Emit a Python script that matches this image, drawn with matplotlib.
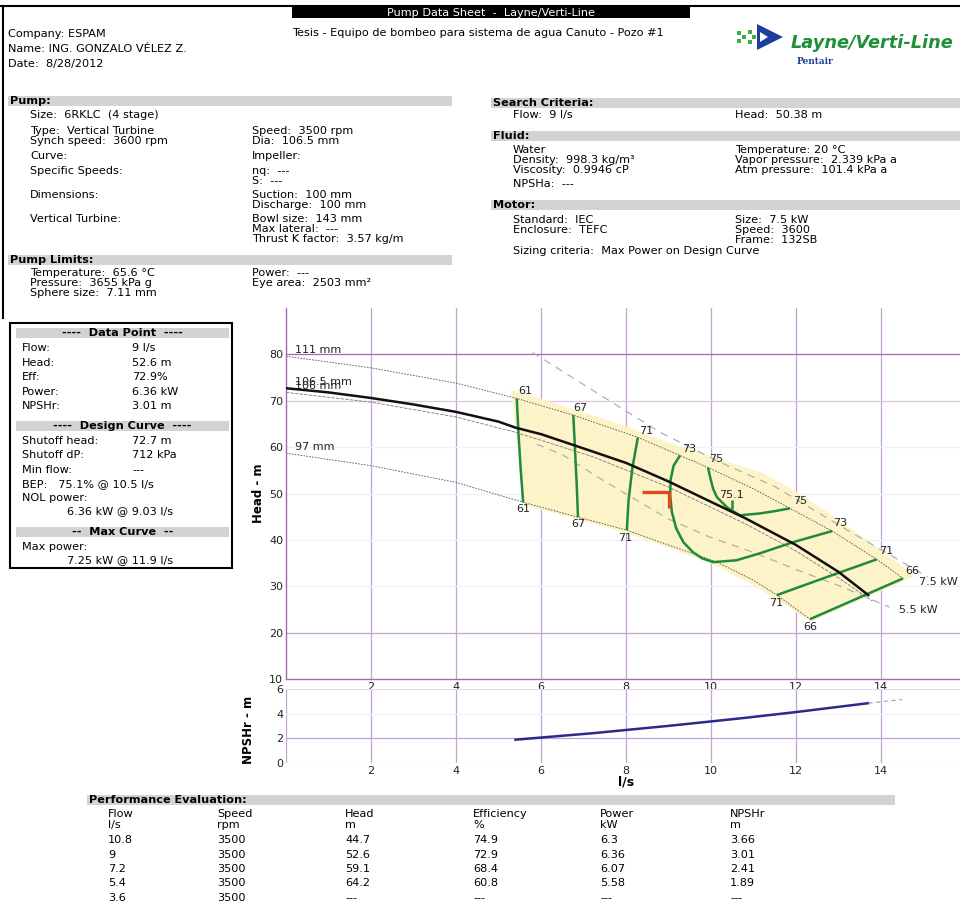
import matplotlib
matplotlib.use('Agg')
import matplotlib.pyplot as plt
from matplotlib.patches import Rectangle, Polygon

plt.rcParams['font.family'] = ['DejaVu Sans']
plt.rcParams['font.size'] = 8.1

# --- curvas H-Q (l/s, m) ---
flow_design = [0, 1, 2, 3, 4, 5, 5.4, 6, 7.2, 8, 9, 10, 10.8, 12, 13, 13.7]
head_design = [72.7, 71.8, 70.6, 69.2, 67.6, 65.5, 64.2, 62.8, 59.1, 56.6, 52.6, 48.2, 44.7, 38.9, 33.1, 28.1]

flow_106 = [0, 2, 4, 5.4, 7.2, 9, 10.8, 12, 13, 13.8]
head_106 = [71.8, 69.7, 66.5, 63.2, 58.0, 51.4, 43.5, 37.6, 31.8, 26.8]

flow_111 = [0, 2, 4, 5.43, 6.76, 8.28, 9.27, 9.93, 11, 11.86, 12.85, 13.9, 14.52]
head_111 = [79.6, 77.1, 73.8, 70.5, 66.9, 62.1, 58.2, 55.6, 51.0, 46.8, 41.9, 35.8, 31.7]

flow_97 = [0, 2, 4, 5.58, 6.87, 8.02, 9, 10.14, 11, 11.55, 12.33]
head_97 = [58.7, 56.0, 52.4, 48.1, 44.9, 42.1, 38.9, 35.2, 31.3, 28.1, 22.9]

# lineas de potencia
flow_75kw = [5.8, 7.4, 8.8, 10.2, 11.5, 12.5, 13.3, 14.3, 15.1]
head_75kw = [80.4, 71.2, 63.2, 56.8, 51.5, 46.0, 41.6, 36.3, 32.0]
flow_55kw = [5.9, 6.5, 7.5, 9.0, 10.0, 11.0, 12.0, 13.1, 14.2]
head_55kw = [60.6, 58.4, 52.6, 44.5, 40.5, 37.3, 33.6, 29.8, 25.5]

# zona de operacion
zone_q = [5.3, 6.5, 8.0, 9.0, 10.0, 11.2, 11.9, 12.9, 13.9, 14.8,
          12.35, 11.5, 11.0, 10.1, 9.0, 8.0, 6.9, 5.6]
zone_h = [72.3, 69.0, 64.5, 61.0, 58.0, 54.5, 51.0, 45.0, 38.5, 32.2,
          22.4, 27.4, 30.2, 34.5, 38.3, 41.5, 44.3, 47.5]

# curvas de iso-eficiencia
eff61_q = [5.43, 5.47, 5.52, 5.58]
eff61_h = [70.5, 63.0, 55.5, 48.1]
eff67_q = [6.76, 6.80, 6.84, 6.87]
eff67_h = [66.9, 59.5, 52.0, 44.9]
eff71a_q = [8.28, 8.15, 8.06, 8.02]
eff71a_h = [62.1, 55.5, 48.5, 42.1]
eff73_q = [9.27, 9.12, 9.05, 9.04, 9.08, 9.18, 9.35, 9.58, 9.8, 10.05, 10.6, 11.15, 11.93, 12.85]
eff73_h = [58.2, 56.0, 53.0, 49.5, 46.0, 42.5, 39.5, 37.3, 36.0, 35.2, 35.6, 37.1, 39.5, 41.9]
eff75_q = [9.93, 9.98, 10.05, 10.14, 10.38, 10.68, 11.15, 11.5, 11.86]
eff75_h = [55.6, 53.5, 51.0, 49.2, 47.0, 45.3, 45.7, 46.2, 46.8]
eff71b_q = [11.55, 12.7, 13.9]
eff71b_h = [28.1, 31.9, 35.8]
eff66_q = [12.33, 13.4, 14.52]
eff66_h = [22.9, 27.2, 31.7]
bep_q = [10.5, 10.5]
bep_h = [48.6, 46.6]

# punto de busqueda
search_flow = 9
search_head = 50.38

# NPSHr
flow_npsh = [5.4, 7.2, 9, 10.8, 12, 13.7]
npsh = [1.89, 2.41, 3.01, 3.66, 4.13, 4.85]
flow_npsh_ext = [13.7, 14.5]
npsh_ext = [4.85, 5.15]

# tabla de evaluacion
perf_flow = ['10.8', '9', '7.2', '5.4', '3.6']
perf_speed = ['3500', '3500', '3500', '3500', '3500']
perf_head = ['44.7', '52.6', '59.1', '64.2', '---']
perf_eff = ['74.9', '72.9', '68.4', '60.8', '---']
perf_power = ['6.3', '6.36', '6.07', '5.58', '---']
perf_npsh = ['3.66', '3.01', '2.41', '1.89', '---']

GREEN = '#1f8a3c'
GRID = '#c4a3d0'
GRID_DARK = '#9c6cab'
GRID_FAINT = '#f4eef6'
BAR = '#d3d3d3'

fig = plt.figure(figsize=(9.6, 9.08), dpi=100)
page = fig.add_axes([0, 0, 1, 1])
page.set_xlim(0, 960)
page.set_ylim(908, 0)
page.axis('off')


def txt(x, y, s, **kw):
    kw.setdefault('va', 'center')
    kw.setdefault('ha', 'left')
    page.text(x, y, s, **kw)


def bar(x0, x1, y, label=None, center=False):
    page.add_patch(Rectangle((x0, y - 5), x1 - x0, 10, color=BAR, lw=0))
    if label:
        if center:
            txt((x0 + x1) / 2, y, label, ha='center', fontweight='bold')
        else:
            txt(x0 + 2, y, label, fontweight='bold')


# encabezado
page.plot([0, 960], [6, 6], color='black', lw=1.5)
page.plot([3, 3], [6, 318], color='black', lw=1.5)
page.add_patch(Rectangle((292, 6), 398, 12, color='black', lw=0))
txt(491, 12.5, 'Pump Data Sheet  -  Layne/Verti-Line', ha='center', color='white')
txt(8, 34, 'Company: ESPAM')
txt(8, 49, 'Name: ING. GONZALO VÉLEZ Z.')
txt(8, 64, 'Date:  8/28/2012')
txt(292, 33, 'Tesis - Equipo de bombeo para sistema de agua Canuto - Pozo #1')

# logo
page.add_patch(Polygon([[757, 24], [783, 37], [757, 50]], closed=True, color='#1b3f9e', lw=0))
page.add_patch(Polygon([[760, 32], [768, 37], [760, 42]], closed=True, color='white', lw=0))
for gx, gy in [(750, 32), (750, 42), (744, 37), (754, 37), (739, 33), (739, 41)]:
    page.add_patch(Rectangle((gx - 2, gy - 2), 4, 4, color='#3cae48', lw=0))
txt(791, 43, 'Layne/Verti-Line', fontsize=12.8, fontweight='bold', style='italic', color='#1f8f3a')
txt(797, 61, 'Pentair', fontsize=6.5, fontweight='bold', color='#1b3f9e', family='DejaVu Serif')

# bomba
bar(8, 452, 101, 'Pump:')
txt(30, 115, 'Size:  6RKLC  (4 stage)')
txt(30, 131, 'Type:  Vertical Turbine')
txt(30, 141, 'Synch speed:  3600 rpm')
txt(252, 131, 'Speed:  3500 rpm')
txt(252, 141, 'Dia:  106.5 mm')
txt(30, 156, 'Curve:')
txt(252, 156, 'Impeller:')
txt(30, 171, 'Specific Speeds:')
txt(252, 171, 'nq:  ---')
txt(252, 181, 'S:  ---')
txt(30, 195, 'Dimensions:')
txt(252, 195, 'Suction:  100 mm')
txt(252, 205, 'Discharge:  100 mm')
txt(30, 219, 'Vertical Turbine:')
txt(252, 219, 'Bowl size:  143 mm')
txt(252, 229, 'Max lateral:  ---')
txt(252, 239, 'Thrust K factor:  3.57 kg/m')
bar(8, 452, 260, 'Pump Limits:')
txt(30, 273, 'Temperature:  65.6 °C')
txt(30, 283, 'Pressure:  3655 kPa g')
txt(30, 293, 'Sphere size:  7.11 mm')
txt(252, 273, 'Power:  ---')
txt(252, 283, 'Eye area:  2503 mm²')

# criterios, fluido, motor
bar(491, 960, 103, 'Search Criteria:')
txt(513, 115, 'Flow:  9 l/s')
txt(735, 115, 'Head:  50.38 m')
bar(491, 960, 136, 'Fluid:')
txt(513, 150, 'Water')
txt(513, 160, 'Density:  998.3 kg/m³')
txt(513, 170, 'Viscosity:  0.9946 cP')
txt(513, 184, 'NPSHa:  ---')
txt(735, 150, 'Temperature: 20 °C')
txt(735, 160, 'Vapor pressure:  2.339 kPa a')
txt(735, 170, 'Atm pressure:  101.4 kPa a')
bar(491, 960, 205, 'Motor:')
txt(513, 220, 'Standard:  IEC')
txt(513, 230, 'Enclosure:  TEFC')
txt(735, 220, 'Size:  7.5 kW')
txt(735, 230, 'Speed:  3600')
txt(735, 240, 'Frame:  132SB')
txt(513, 251, 'Sizing criteria:  Max Power on Design Curve')

# recuadro punto de datos
page.add_patch(Rectangle((10, 323), 222, 245, fill=False, ec='black', lw=1.5))
bar(16, 229, 333, '----  Data Point  ----', center=True)
for yy, lab, val in [(348, 'Flow:', '9 l/s'), (363, 'Head:', '52.6 m'), (377, 'Eff:', '72.9%'),
                     (392, 'Power:', '6.36 kW'), (406, 'NPSHr:', '3.01 m')]:
    txt(22, yy, lab)
    txt(132, yy, val)
bar(16, 229, 426, '----  Design Curve  ----', center=True)
for yy, lab, val in [(441, 'Shutoff head:', '72.7 m'), (455, 'Shutoff dP:', '712 kPa'),
                     (470, 'Min flow:', '---')]:
    txt(22, yy, lab)
    txt(132, yy, val)
txt(22, 484, 'BEP:   75.1% @ 10.5 l/s')
txt(22, 498, 'NOL power:')
txt(67, 511, '6.36 kW @ 9.03 l/s')
bar(16, 229, 532, '--  Max Curve  --', center=True)
txt(22, 547, 'Max power:')
txt(67, 560, '7.25 kW @ 11.9 l/s')

# tabla de evaluacion
bar(87, 895, 800, 'Performance Evaluation:')
cols = [108, 217, 345, 473, 600, 730]
heads = [('Flow', 'l/s'), ('Speed', 'rpm'), ('Head', 'm'), ('Efficiency', '%'),
         ('Power', 'kW'), ('NPSHr', 'm')]
for cx, (h1, h2) in zip(cols, heads):
    txt(cx, 814, h1)
    txt(cx, 825, h2)
for i, row in enumerate(zip(perf_flow, perf_speed, perf_head, perf_eff, perf_power, perf_npsh)):
    for cx, v in zip(cols, row):
        txt(cx, 840 + i * 14.5, v)

# --- grafico H-Q ---
X0, X1 = 286, 960
ax = fig.add_axes([X0 / 960, 1 - 679 / 908, (X1 - X0) / 960, (679 - 308) / 908])
ax.set_xlim(0, (X1 - X0) / 42.5)
ax.set_ylim(10, 90)
ax.patch.set_alpha(0)
for s in ['top', 'right']:
    ax.spines[s].set_visible(False)
for s in ['left', 'bottom']:
    ax.spines[s].set_color(GRID_DARK)
    ax.spines[s].set_linewidth(1.0)
for xv in range(2, 16, 2):
    ax.axvline(xv, color=GRID, lw=0.9, zorder=0)
for yv, col in [(80, GRID_DARK), (70, '#dcc7e3'), (60, GRID_FAINT), (50, GRID_FAINT),
                (40, GRID_FAINT), (30, GRID_FAINT), (20, GRID)]:
    ax.axhline(yv, color=col, lw=0.9, zorder=0)
ax.set_xticks(range(2, 16, 2))
ax.set_yticks(range(10, 90, 10))
ax.tick_params(length=0, pad=2, labelsize=8, colors='#222222')

ax.fill(zone_q, zone_h, color='#fdf3c8', lw=0, zorder=1)
ax.plot(flow_111, head_111, color='#555555', lw=0.6, ls=(0, (2, 1.5)), zorder=2)
ax.plot(flow_97, head_97, color='#555555', lw=0.6, ls=(0, (2, 1.5)), zorder=2)
ax.plot(flow_106, head_106, color='#777777', lw=0.6, ls=(0, (4, 1.5)), zorder=2)
ax.plot(flow_75kw, head_75kw, color='#b0b0b0', lw=0.9, ls=(0, (6, 5)), zorder=2)
ax.plot(flow_55kw, head_55kw, color='#b0b0b0', lw=0.9, ls=(0, (6, 5)), zorder=2)
for q, h in [(eff61_q, eff61_h), (eff67_q, eff67_h), (eff71a_q, eff71a_h), (eff73_q, eff73_h),
             (eff75_q, eff75_h), (eff71b_q, eff71b_h), (eff66_q, eff66_h), (bep_q, bep_h)]:
    ax.plot(q, h, color=GREEN, lw=1.8, zorder=3, solid_capstyle='butt')
ax.plot(flow_design, head_design, color='#111111', lw=1.8, zorder=4)
ax.plot([search_flow - 0.62, search_flow], [search_head, search_head], color='#e4461c', lw=2.4, zorder=5,
        solid_capstyle='butt')
ax.plot([search_flow, search_flow], [search_head, search_head - 3.6], color='#e4461c', lw=2.4, zorder=5,
        solid_capstyle='butt')

lab_kw = dict(fontsize=8, ha='center', va='center', color='#222222', zorder=6)
for s, q, h in [('61', 5.62, 72.2), ('61', 5.58, 46.6), ('67', 6.92, 68.4), ('67', 6.87, 43.4),
                ('71', 8.47, 63.4), ('71', 7.98, 40.3), ('73', 9.48, 59.7), ('75', 10.12, 57.4),
                ('75.1', 10.47, 49.6), ('75', 12.09, 48.3), ('73', 13.04, 43.6), ('71', 14.12, 37.5),
                ('66', 14.73, 33.2), ('71', 11.53, 26.3), ('66', 12.33, 21.2),
                ('7.5 kW', 15.36, 30.9), ('5.5 kW', 14.87, 24.8)]:
    ax.text(q, h, s, **lab_kw)
ax.text(0.21, 80.9, '111 mm', fontsize=8, va='center', color='#222222')
ax.text(0.21, 74.0, '106.5 mm', fontsize=8, va='center', color='#222222')
ax.text(0.21, 73.2, '106 mm', fontsize=8, va='center', color='#222222')
ax.text(0.21, 60.0, '97 mm', fontsize=8, va='center', color='#222222')
txt(258, 493, 'Head - m', rotation=90, ha='center', fontweight='bold', fontsize=8.5)

# --- grafico NPSHr ---
ax2 = fig.add_axes([X0 / 960, 1 - 763 / 908, (X1 - X0) / 960, (763 - 689) / 908])
ax2.set_xlim(0, (X1 - X0) / 42.5)
ax2.set_ylim(0, 6)
ax2.patch.set_alpha(0)
for s in ax2.spines.values():
    s.set_visible(False)
for xv in range(2, 16, 2):
    ax2.axvline(xv, color=GRID, lw=0.9, zorder=0)
ax2.axvline(0, color=GRID, lw=0.9, zorder=0)
for yv, col in [(6, '#e6d8eb'), (4, GRID_FAINT), (2, GRID), (0, GRID_FAINT)]:
    ax2.axhline(yv, color=col, lw=0.9, zorder=0)
ax2.set_xticks(range(2, 16, 2))
ax2.set_yticks(range(0, 7, 2))
ax2.tick_params(length=0, pad=2, labelsize=8, colors='#222222')
ax2.plot(flow_npsh, npsh, color='#2b2a8c', lw=1.8, zorder=3)
ax2.plot(flow_npsh_ext, npsh_ext, color='#a0a0c0', lw=0.8, ls=(0, (4, 3)), zorder=3)
txt(248, 730, 'NPSHr - m', rotation=90, ha='center', fontweight='bold', fontsize=8.5)
txt(626, 782, 'l/s', ha='center', fontweight='bold', fontsize=9)

fig.savefig('out.png', dpi=100)
